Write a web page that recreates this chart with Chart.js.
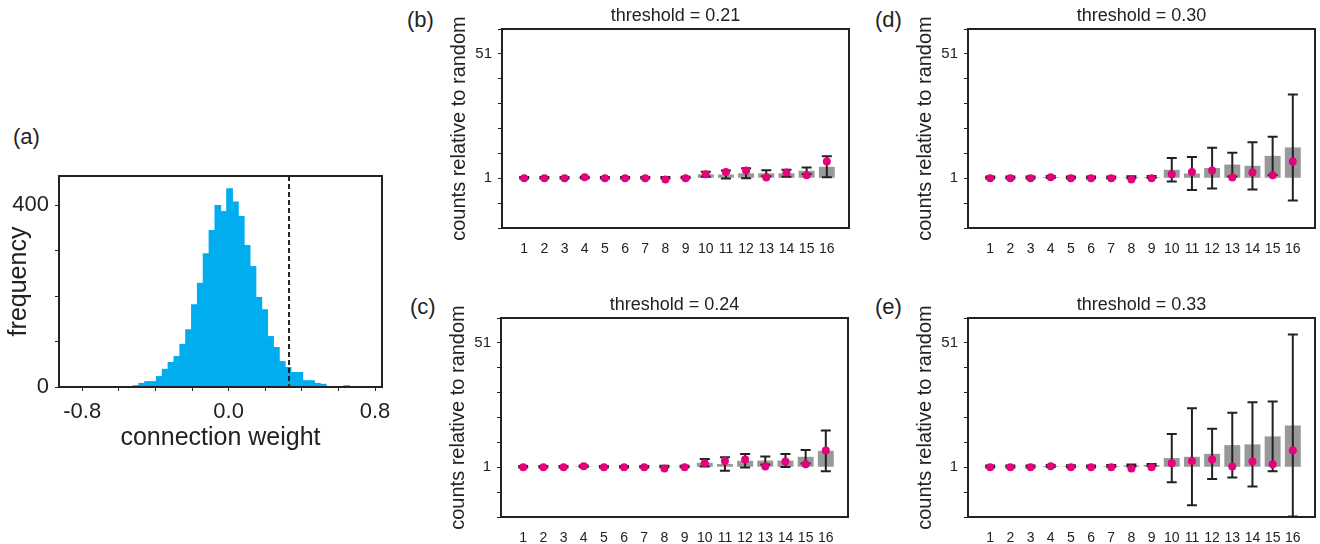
<!DOCTYPE html>
<html>
<head>
<meta charset="utf-8">
<script src="https://cdn.jsdelivr.net/npm/chart.js@4.4.1/dist/chart.umd.min.js"></script>
<style>
  body { margin: 0; background: #fff; }
  #page { position: relative; width: 1320px; height: 544px; overflow: hidden; font-family: "Liberation Sans", Arial, sans-serif; }
  canvas { position: absolute; }
  .tag { position: absolute; font-size: 22px; line-height: 22px; color: #222; }
</style>
</head>
<body>
<div id="page">
  <canvas id="hist" width="400" height="307" style="left:0px;top:150px"></canvas>
  <canvas id="p021" width="413" height="258" style="left:440px;top:0px"></canvas>
  <canvas id="p024" width="413" height="258" style="left:439px;top:289px"></canvas>
  <canvas id="p030" width="413" height="258" style="left:906px;top:0px"></canvas>
  <canvas id="p033" width="413" height="258" style="left:906px;top:289px"></canvas>
  <div class="tag" style="left:13px;top:126px">(a)</div>
  <div class="tag" style="left:407px;top:9px">(b)</div>
  <div class="tag" style="left:410px;top:296px">(c)</div>
  <div class="tag" style="left:875px;top:9px">(d)</div>
  <div class="tag" style="left:875px;top:296px">(e)</div>
</div>
<script>
// (a) histogram of connection weights
const binCenters = [-0.667, -0.635, -0.603, -0.571, -0.539, -0.507, -0.475, -0.443, -0.411, -0.379,
  -0.347, -0.315, -0.283, -0.251, -0.219, -0.187, -0.155, -0.123, -0.091, -0.059,
  -0.027, 0.005, 0.037, 0.069, 0.101, 0.133, 0.165, 0.197, 0.229, 0.261,
  0.293, 0.325, 0.357, 0.389, 0.421, 0.453, 0.485, 0.517, 0.549, 0.581,
  0.613, 0.645, 0.677, 0.709, 0.741];
const binCounts = [1, 1, 1, 2, 2, 4, 9, 13, 13, 24,
  40, 55, 68, 95, 127, 182, 229, 294, 345, 400,
  387, 437, 408, 376, 312, 266, 198, 171, 112, 88,
  57, 44, 33, 33, 15, 15, 9, 7, 2, 1,
  1, 4, 2, 0, 1];
const threshold = 0.33;
const freqTicks = [0, 100, 200, 300, 400];
const freqTickLabels = ['0', '', '', '', '400'];
const weightTicks = [-0.8, -0.6, -0.4, -0.2, 0, 0.2, 0.4, 0.6, 0.8];
const weightTickLabels = ['-0.8', '', '', '', '0.0', '', '', '', '0.8'];

// (b)-(e) counts relative to random, per order
const orders = [1, 2, 3, 4, 5, 6, 7, 8, 9, 10, 11, 12, 13, 14, 15, 16];
const countTicks = [-19, -9, 1, 11, 21, 31, 41, 51, 61];
const countTickLabels = ['', '', '1', '', '', '', '', '51', ''];
const observed = [1.0, 1.0, 1.0, 1.4, 1.0, 1.0, 1.0, 0.5, 1.0, 2.6, 3.5, 4.1, 1.3, 3.3, 2.2, 7.7];

const mean021 = [1.2, 1.2, 1.2, 1.3, 1.2, 1.2, 1.2, 1.2, 1.3, 2.6, 2.5, 3.0, 3.0, 3.0, 4.0, 5.6];
const sd021 = [0.3, 0.3, 0.3, 0.3, 0.3, 0.3, 0.3, 0.3, 0.3, 1.0, 1.6, 2.0, 1.2, 1.4, 1.3, 4.2];
const mean024 = [1.2, 1.2, 1.2, 1.4, 1.2, 1.2, 1.2, 1.3, 1.3, 2.8, 2.3, 3.6, 3.7, 3.7, 5.2, 7.6];
const sd024 = [0.3, 0.3, 0.3, 0.3, 0.3, 0.3, 0.3, 0.3, 0.3, 1.5, 2.7, 2.7, 1.6, 2.6, 2.7, 8.2];
const mean030 = [1.3, 1.3, 1.3, 1.5, 1.3, 1.3, 1.3, 1.4, 1.5, 4.4, 2.9, 5.1, 6.5, 6.0, 10.0, 13.4];
const sd030 = [0.4, 0.4, 0.4, 0.4, 0.4, 0.4, 0.4, 0.4, 0.4, 4.7, 6.6, 8.2, 4.8, 9.5, 7.7, 21.3];
const mean033 = [1.3, 1.3, 1.3, 1.5, 1.4, 1.3, 1.5, 1.7, 1.9, 4.7, 5.2, 6.4, 9.9, 10.2, 13.4, 17.8];
const sd033 = [0.4, 0.4, 0.4, 0.4, 0.4, 0.4, 0.4, 0.4, 0.4, 9.7, 19.5, 10.1, 13.0, 16.9, 14.0, 36.6];

Chart.defaults.font.family = '"Liberation Sans", Arial, sans-serif';
Chart.defaults.color = '#222';

const ink = '#222';

const framePlugin = {
    id: 'frame',
    afterDraw(chart) {
        const { ctx, chartArea: a } = chart;
        ctx.save();
        ctx.strokeStyle = ink;
        ctx.lineWidth = 2;
        ctx.strokeRect(a.left, a.top, a.right - a.left, a.bottom - a.top);
        ctx.restore();
    }
};

const thresholdPlugin = {
    id: 'threshold',
    afterDatasetsDraw(chart, args, opts) {
        const { ctx, chartArea: a } = chart;
        const x = chart.scales.x.getPixelForValue(opts.value);
        ctx.save();
        ctx.strokeStyle = ink;
        ctx.lineWidth = 2;
        ctx.setLineDash([5, 3]);
        ctx.beginPath();
        ctx.moveTo(x, a.top);
        ctx.lineTo(x, a.bottom);
        ctx.stroke();
        ctx.restore();
    }
};

const errorBarPlugin = {
    id: 'errorBars',
    afterDatasetDraw(chart, args, opts) {
        if (args.index !== 0 || !opts.sd) return;
        const { ctx } = chart;
        const xs = chart.scales.x, ys = chart.scales.y;
        ctx.save();
        ctx.strokeStyle = ink;
        ctx.lineWidth = 2;
        chart.data.datasets[0].data.forEach((p, i) => {
            const px = xs.getPixelForValue(p.x);
            const top = ys.getPixelForValue(p.y + opts.sd[i]);
            const bot = ys.getPixelForValue(p.y - opts.sd[i]);
            ctx.beginPath();
            ctx.moveTo(px, top); ctx.lineTo(px, bot);
            ctx.moveTo(px - 5, top); ctx.lineTo(px + 5, top);
            ctx.moveTo(px - 5, bot); ctx.lineTo(px + 5, bot);
            ctx.stroke();
        });
        ctx.restore();
    }
};

new Chart(document.getElementById('hist'), {
    type: 'bar',
    data: {
        datasets: [{
            data: binCenters.map((c, i) => ({ x: c, y: binCounts[i] })),
            backgroundColor: '#00aeef',
            borderWidth: 0,
            barPercentage: 1.15,
            categoryPercentage: 1
        }]
    },
    options: {
        responsive: false,
        animation: false,
        layout: { padding: { left: 0, top: 26, right: 18, bottom: 4 } },
        plugins: {
            legend: { display: false },
            tooltip: { enabled: false },
            threshold: { value: threshold }
        },
        scales: {
            x: {
                type: 'linear', min: -0.927, max: 0.838, offset: false,
                afterBuildTicks: s => { s.ticks = weightTicks.map(v => ({ value: v })); },
                afterFit: s => { s.height = 66; },
                grid: { display: true, drawOnChartArea: false, drawTicks: true, tickLength: 4, color: ink, offset: false },
                border: { display: false },
                ticks: { font: { size: 22 }, padding: 8, maxRotation: 0, autoSkip: false, color: ink,
                    callback: (v, i) => weightTickLabels[i] },
                title: { display: true, text: 'connection weight', font: { size: 25 }, padding: 0, color: ink }
            },
            y: {
                min: 0, max: 464,
                afterBuildTicks: s => { s.ticks = freqTicks.map(v => ({ value: v })); },
                afterFit: s => { s.width = 59; },
                grid: { display: true, drawOnChartArea: false, drawTicks: true, tickLength: 4, color: ink },
                border: { display: false },
                ticks: { font: { size: 22 }, padding: 6, autoSkip: false, color: ink,
                    callback: (v, i) => freqTickLabels[i] },
                title: { display: true, text: 'frequency', font: { size: 25 }, padding: { top: 4, bottom: 0 }, color: ink }
            }
        }
    },
    plugins: [framePlugin, thresholdPlugin]
});

function makePanel(id, titleText, means, sds) {
    return new Chart(document.getElementById(id), {
        type: 'bar',
        data: {
            datasets: [{
                type: 'bar',
                data: orders.map((o, i) => ({ x: o, y: means[i] })),
                base: 1,
                backgroundColor: '#999999',
                borderWidth: 0,
                barPercentage: 0.79,
                categoryPercentage: 1,
                order: 2
            }, {
                type: 'scatter',
                data: orders.map((o, i) => ({ x: o, y: observed[i] })),
                pointRadius: 4,
                pointBackgroundColor: '#e6007e',
                pointBorderWidth: 0,
                order: 1
            }]
        },
        options: {
            responsive: false,
            animation: false,
            layout: { padding: { left: 0, top: 0, right: 4, bottom: 2 } },
            plugins: {
                legend: { display: false },
                tooltip: { enabled: false },
                title: {
                    display: true, text: titleText, fullSize: false,
                    font: { size: 18, weight: 'normal' }, color: ink,
                    padding: { top: 5, bottom: 2.4 }
                },
                errorBars: { sd: sds }
            },
            scales: {
                x: {
                    type: 'linear', min: -0.1, max: 17.1, offset: false,
                    afterBuildTicks: s => { s.ticks = orders.map(v => ({ value: v })); },
                    afterFit: s => { s.height = 28; },
                    grid: { display: false, offset: false },
                    border: { display: false },
                    ticks: { font: { size: 14 }, padding: 5, maxRotation: 0, autoSkip: false, color: ink,
                        callback: (v, i) => String(orders[i]) }
                },
                y: {
                    min: -19, max: 61,
                    afterBuildTicks: s => { s.ticks = countTicks.map(v => ({ value: v })); },
                    afterFit: s => { s.width = 62; },
                    grid: { display: true, drawOnChartArea: false, drawTicks: true, tickLength: 4, color: ink },
                    border: { display: false },
                    ticks: { font: { size: 15 }, padding: 6, autoSkip: false, color: ink,
                        callback: (v, i) => countTickLabels[i] },
                    title: { display: true, text: 'counts relative to random', font: { size: 20 },
                        padding: { top: 7, bottom: 0 }, color: ink }
                }
            }
        },
        plugins: [framePlugin, errorBarPlugin]
    });
}

makePanel('p021', 'threshold = 0.21', mean021, sd021);
makePanel('p024', 'threshold = 0.24', mean024, sd024);
makePanel('p030', 'threshold = 0.30', mean030, sd030);
makePanel('p033', 'threshold = 0.33', mean033, sd033);
</script>
</body>
</html>
